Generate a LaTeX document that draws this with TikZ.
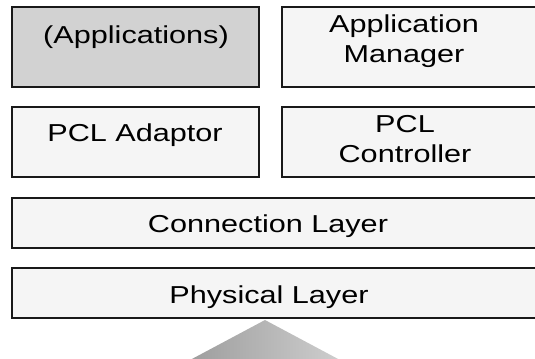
\documentclass[tikz,border=0pt]{standalone}
\usepackage{fontspec}
\newfontfamily\boxfont{Liberation Sans}[FakeStretch=1.25]
\usetikzlibrary{positioning}

\begin{document}
\begin{tikzpicture}[x=1bp,y=-1bp]
  \tikzstyle{box}=[draw=black!90,line width=1.6bp,inner sep=0pt,outer sep=0pt,anchor=north west,fill=gray!8]
  \tikzstyle{txt}=[inner sep=0pt,align=center,font=\boxfont\fontsize{24.5bp}{29.5bp}\selectfont,anchor=base]
  \useasboundingbox (0,0) rectangle (535,358);
  % boxes
  \node[box,fill=gray!35,minimum width=247bp,minimum height=80bp] (app) at (12,7) {};
  \node[box,minimum width=280bp,minimum height=80bp] (mgr) at (282,7) {};
  \node[box,minimum width=247bp,minimum height=70bp] (adp) at (12,107) {};
  \node[box,minimum width=280bp,minimum height=70bp] (ctl) at (282,107) {};
  \node[box,minimum width=550bp,minimum height=50bp] (conn) at (12,198) {};
  \node[box,minimum width=550bp,minimum height=50bp] (phys) at (12,268) {};
  % labels (base = last line)
  \node[txt] (appT) at (136,43) {(Applications)};
  \node[txt] (mgrT) at (404,62) {Application\\Manager};
  \node[txt] (adpT) at (135,141) {PCL Adaptor};
  \node[txt] (ctlT) at (405,162) {PCL\\Controller};
  \node[txt] (connT) at (268,232) {Connection Layer};
  \node[txt] (physT) at (269,303) {Physical Layer};
  % arrow head below
  \coordinate (tip) at (265,320);
  \shade[left color=gray!80,middle color=gray!30,right color=gray!35]
    (tip) -- (175,368) -- (355,368) -- cycle;
\end{tikzpicture}
\end{document}
